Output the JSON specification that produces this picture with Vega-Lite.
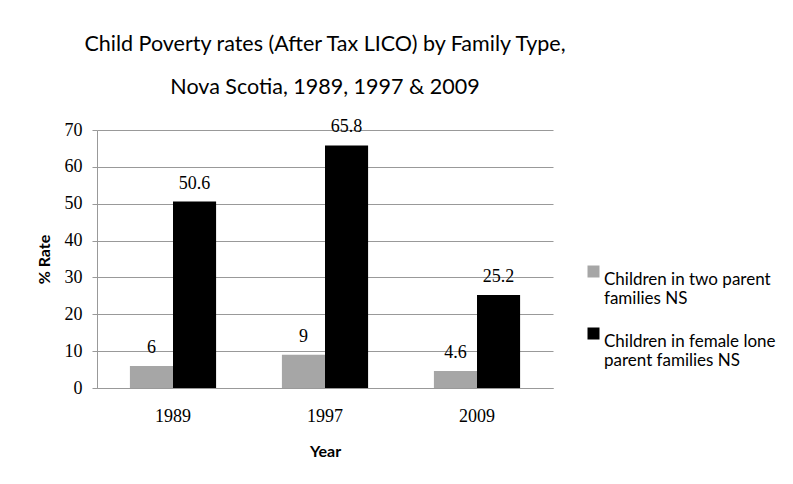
{
  "$schema": "https://vega.github.io/schema/vega-lite/v6.json",
  "width": 456,
  "height": 258,
  "autosize": {"type": "none"},
  "padding": {"left": 97, "top": 130, "right": 240, "bottom": 96},
  "background": "white",
  "title": {
    "text": ["Child Poverty rates (After Tax LICO) by Family Type,", "Nova Scotia, 1989, 1997 & 2009"],
    "anchor": "middle",
    "frame": "group",
    "font": "Lato",
    "fontSize": 21.5,
    "fontWeight": "normal",
    "lineHeight": 43,
    "color": "#000000",
    "offset": 20
  },
  "data": {
    "values": [
      {"year": "1989", "type": "Children in two parent families NS", "rate": 6},
      {"year": "1989", "type": "Children in female lone parent families NS", "rate": 50.6},
      {"year": "1997", "type": "Children in two parent families NS", "rate": 9},
      {"year": "1997", "type": "Children in female lone parent families NS", "rate": 65.8},
      {"year": "2009", "type": "Children in two parent families NS", "rate": 4.6},
      {"year": "2009", "type": "Children in female lone parent families NS", "rate": 25.2}
    ]
  },
  "encoding": {
    "x": {
      "field": "year",
      "type": "nominal",
      "scale": {"paddingInner": 0.433, "paddingOuter": 0.2165},
      "axis": {
        "title": "Year",
        "labelAngle": 0,
        "labelFont": "Liberation Serif",
        "labelFontSize": 18,
        "labelColor": "#000000",
        "labelPadding": 19,
        "ticks": false,
        "domainColor": "#999999",
        "titleFont": "Lato",
        "titleFontSize": 16,
        "titleFontWeight": "bold",
        "titleColor": "#000000",
        "titlePadding": 18
      }
    },
    "xOffset": {
      "field": "type",
      "type": "nominal",
      "sort": ["Children in two parent families NS", "Children in female lone parent families NS"],
      "scale": {"paddingInner": 0, "paddingOuter": 0}
    },
    "y": {
      "field": "rate",
      "type": "quantitative",
      "scale": {"domain": [0, 70]},
      "axis": {
        "title": "% Rate",
        "values": [0, 10, 20, 30, 40, 50, 60, 70],
        "labelFont": "Liberation Serif",
        "labelFontSize": 18,
        "labelColor": "#000000",
        "labelPadding": 10,
        "tickColor": "#999999",
        "tickSize": 5,
        "domainColor": "#999999",
        "gridColor": "#999999",
        "gridOpacity": 1,
        "titleFont": "Lato",
        "titleFontSize": 16,
        "titleFontWeight": "bold",
        "titleColor": "#000000",
        "titlePadding": 12
      }
    }
  },
  "layer": [
    {
      "mark": {"type": "bar"},
      "encoding": {
        "color": {
          "field": "type",
          "type": "nominal",
          "sort": ["Children in two parent families NS", "Children in female lone parent families NS"],
          "scale": {"range": ["#a6a6a6", "#000000"]},
          "legend": {
            "title": null,
            "orient": "none",
            "legendX": 488,
            "legendY": 133,
            "symbolType": "square",
            "symbolSize": 144,
            "symbolStrokeWidth": 0,
            "labelFont": "Lato",
            "labelFontSize": 17,
            "labelColor": "#000000",
            "labelLimit": 300,
            "labelBaseline": "top",
            "labelOffset": 2,
            "rowPadding": 18,
            "labelExpr": "datum.label == 'Children in two parent families NS' ? ['Children in two parent', 'families NS'] : ['Children in female lone', 'parent families NS']"
          }
        }
      }
    },
    {
      "mark": {"type": "text", "baseline": "bottom", "dy": -9, "font": "Liberation Serif", "fontSize": 18, "color": "#000000"},
      "encoding": {
        "text": {"field": "rate", "type": "quantitative"}
      }
    }
  ],
  "config": {
    "view": {"stroke": null}
  }
}
